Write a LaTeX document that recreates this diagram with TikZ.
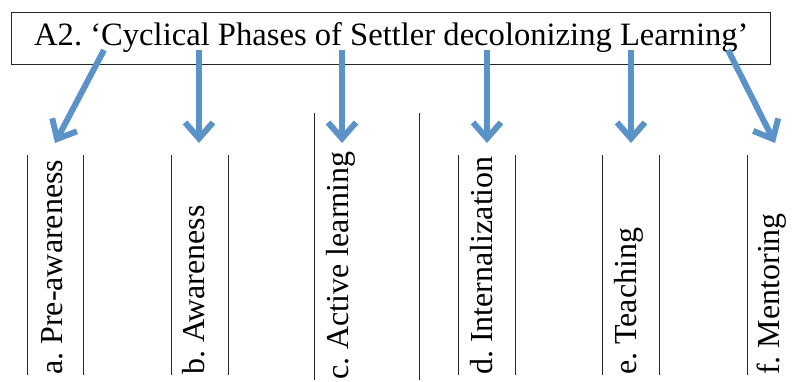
\documentclass[tikz,border=0pt]{standalone}
\usepackage{fontspec}
\setmainfont{Liberation Serif}
\usetikzlibrary{arrows.meta,positioning}

\definecolor{arrowblue}{RGB}{91,147,201}
\frenchspacing

\begin{document}
\begin{tikzpicture}[x=1pt, y=-1pt,
        phase/.style = {rotate=90, anchor=base west, inner sep=0pt, font=\fontsize{32}{38}\selectfont},
        rule/.style = {line width=0.9pt, black!85},
        arr/.style = {arrowblue, line width=6pt, -{Straight Barb[length=16pt, width=28pt]}}]
    \useasboundingbox (0,0) rectangle (796,381);
    % title box
    \node [draw, rule, minimum width=759pt, minimum height=52pt, inner sep=0pt] (box) at (390.5,38) {};
    \node [anchor=base west, inner sep=0pt, font=\fontsize{32.6}{38}\selectfont] (title) at (34,45)
        {A2. ‘Cyclical Phases of Settler decolonizing Learning’};
    % phases
    \node [phase] (pre) at (62,375) {a. Pre-awareness};
    \node [phase] (aware) at (204,375) {b. Awareness};
    \node [phase] (active) at (348,380) {c. Active learning};
    \node [phase] (intern) at (492,375) {d. Internalization};
    \node [phase] (teach) at (636,375) {e. Teaching};
    \node [phase] (mentor) at (779,375) {f. Mentoring};
    \foreach \x in {27,83,171,228,458,515,602,659,747}
        \draw [rule] (\x,155) -- (\x,375);
    \foreach \x in {314,419}
        \draw [rule] (\x,113) -- (\x,380);
    % arrows
    \foreach \s/\t [count=\i] in {104/55, 199/199, 342/342, 487/487, 631/631, 728/775} {
        \coordinate (s\i) at (\s,50);
        \coordinate (t\i) at (\t,143);
        \draw [arr] (s\i) -- (t\i);
    }
\end{tikzpicture}
\end{document}
